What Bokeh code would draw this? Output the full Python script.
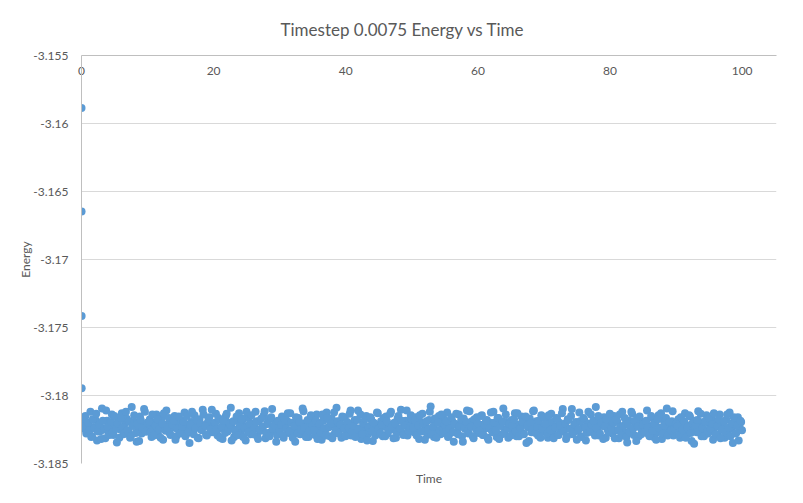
from bokeh.plotting import figure
from bokeh.models import Range1d, FixedTicker, CustomJSTickFormatter, Title
from bokeh.embed import file_html
from bokeh.resources import INLINE

title_text = "Timestep 0.0075 Energy vs Time"
x_label = "Time"
y_label = "Energy"
x_ticks = [0, 20, 40, 60, 80, 100]
y_ticks = [-3.185, -3.18, -3.175, -3.17, -3.165, -3.16, -3.155]

# initial transient (first saved steps)
t_start = [0.0, 0.0075, 0.015, 0.0225]
e_start = [-3.15886, -3.16647, -3.17415, -3.17947]

# equilibrated band, samples every 0.25 time units (two interleaved sets)
band_dt = 0.25
band_a_t0 = 0.1
e_band_a = [
    -3.18190, -3.18245, -3.18150, -3.18275, -3.18210, -3.18120, -3.18300, -3.18232, -3.18178, -3.18330,
    -3.18205, -3.18262, -3.18095, -3.18240, -3.18315, -3.18185, -3.18270, -3.18225, -3.18140, -3.18290,
    -3.18212, -3.18345, -3.18180, -3.18250, -3.18130, -3.18285, -3.18205, -3.18170, -3.18260, -3.18310,
    -3.18085, -3.18225, -3.18195, -3.18340, -3.18240, -3.18155, -3.18280, -3.18215, -3.18120, -3.18265,
    -3.18230, -3.18175, -3.18305, -3.18200, -3.18255, -3.18140, -3.18290, -3.18220, -3.18165, -3.18325,
    -3.18245, -3.18110, -3.18210, -3.18275, -3.18190, -3.18235, -3.18150, -3.18300, -3.18205, -3.18260,
    -3.18180, -3.18240, -3.18125, -3.18285, -3.18215, -3.18350, -3.18195, -3.18260, -3.18145, -3.18230,
    -3.18310, -3.18175, -3.18250, -3.18105, -3.18220, -3.18290, -3.18200, -3.18160, -3.18270, -3.18235,
    -3.18210, -3.18135, -3.18295, -3.18245, -3.18180, -3.18320, -3.18225, -3.18150, -3.18265, -3.18200,
    -3.18090, -3.18240, -3.18305, -3.18185, -3.18255, -3.18130, -3.18280, -3.18215, -3.18170, -3.18330,
    -3.18225, -3.18160, -3.18285, -3.18205, -3.18245, -3.18120, -3.18300, -3.18190, -3.18260, -3.18235,
    -3.18145, -3.18315, -3.18210, -3.18175, -3.18270, -3.18100, -3.18250, -3.18195, -3.18290, -3.18220,
    -3.18240, -3.18155, -3.18310, -3.18215, -3.18185, -3.18275, -3.18130, -3.18255, -3.18200, -3.18340,
    -3.18230, -3.18165, -3.18285, -3.18210, -3.18115, -3.18260, -3.18195, -3.18305, -3.18245, -3.18175,
    -3.18220, -3.18290, -3.18140, -3.18250, -3.18200, -3.18325, -3.18185, -3.18265, -3.18125, -3.18235,
    -3.18300, -3.18170, -3.18215, -3.18280, -3.18090, -3.18245, -3.18190, -3.18310, -3.18230, -3.18160,
    -3.18255, -3.18205, -3.18135, -3.18295, -3.18220, -3.18180, -3.18270, -3.18110, -3.18240, -3.18320,
    -3.18195, -3.18260, -3.18150, -3.18285, -3.18225, -3.18175, -3.18335, -3.18210, -3.18245, -3.18130,
    -3.18265, -3.18190, -3.18300, -3.18230, -3.18155, -3.18280, -3.18215, -3.18120, -3.18250, -3.18200,
    -3.18310, -3.18170, -3.18240, -3.18105, -3.18275, -3.18220, -3.18185, -3.18295, -3.18235, -3.18145,
    -3.18210, -3.18270, -3.18160, -3.18245, -3.18320, -3.18195, -3.18135, -3.18260, -3.18225, -3.18290,
    -3.18180, -3.18080, -3.18240, -3.18305, -3.18200, -3.18255, -3.18150, -3.18285, -3.18215, -3.18175,
    -3.18250, -3.18125, -3.18295, -3.18235, -3.18185, -3.18340, -3.18210, -3.18265, -3.18140, -3.18225,
    -3.18300, -3.18170, -3.18245, -3.18110, -3.18280, -3.18205, -3.18190, -3.18315, -3.18230, -3.18160,
    -3.18275, -3.18215, -3.18145, -3.18290, -3.18240, -3.18180, -3.18325, -3.18200, -3.18255, -3.18120,
    -3.18235, -3.18305, -3.18165, -3.18220, -3.18285, -3.18095, -3.18250, -3.18195, -3.18310, -3.18225,
    -3.18180, -3.18260, -3.18130, -3.18300, -3.18215, -3.18245, -3.18155, -3.18280, -3.18205, -3.18350,
    -3.18235, -3.18170, -3.18270, -3.18115, -3.18250, -3.18190, -3.18295, -3.18225, -3.18145, -3.18265,
    -3.18240, -3.18185, -3.18310, -3.18210, -3.18135, -3.18275, -3.18230, -3.18165, -3.18290, -3.18200,
    -3.18255, -3.18100, -3.18220, -3.18320, -3.18175, -3.18245, -3.18150, -3.18285, -3.18215, -3.18195,
    -3.18260, -3.18125, -3.18300, -3.18235, -3.18180, -3.18330, -3.18205, -3.18250, -3.18140, -3.18270,
    -3.18215, -3.18085, -3.18240, -3.18295, -3.18190, -3.18225, -3.18160, -3.18310, -3.18245, -3.18175,
    -3.18220, -3.18280, -3.18150, -3.18255, -3.18195, -3.18315, -3.18230, -3.18120, -3.18265, -3.18210,
    -3.18345, -3.18185, -3.18245, -3.18135, -3.18290, -3.18225, -3.18170, -3.18300, -3.18205, -3.18260,
    -3.18195, -3.18240, -3.18110, -3.18285, -3.18225, -3.18165, -3.18305, -3.18210, -3.18270, -3.18145,
    -3.18235, -3.18320, -3.18180, -3.18250, -3.18095, -3.18275, -3.18215, -3.18190, -3.18295, -3.18230,
    -3.18245, -3.18175, -3.18310, -3.18200, -3.18260, -3.18130, -3.18285, -3.18220, -3.18155, -3.18335,
    -3.18240, -3.18185, -3.18270, -3.18115, -3.18225, -3.18300, -3.18195, -3.18255, -3.18145, -3.18280,
    -3.18215, -3.18170, -3.18325, -3.18235, -3.18190, -3.18290, -3.18140, -3.18250, -3.18205, -3.18310,
    -3.18180, -3.18265, -3.18125, -3.18240, -3.18350, -3.18210, -3.18275, -3.18160, -3.18230, -3.18195,
]
band_b_t0 = 0.225
e_band_b = [
    -3.18225, -3.18160, -3.18280, -3.18200, -3.18255, -3.18305, -3.18175, -3.18240, -3.18135, -3.18265,
    -3.18215, -3.18320, -3.18185, -3.18250, -3.18110, -3.18230, -3.18290, -3.18195, -3.18270, -3.18150,
    -3.18245, -3.18205, -3.18310, -3.18165, -3.18235, -3.18280, -3.18120, -3.18255, -3.18190, -3.18300,
    -3.18220, -3.18145, -3.18275, -3.18210, -3.18335, -3.18180, -3.18240, -3.18100, -3.18265, -3.18200,
    -3.18190, -3.18270, -3.18140, -3.18295, -3.18220, -3.18175, -3.18250, -3.18310, -3.18205, -3.18130,
    -3.18260, -3.18235, -3.18165, -3.18290, -3.18215, -3.18185, -3.18325, -3.18245, -3.18155, -3.18280,
    -3.18230, -3.18195, -3.18300, -3.18150, -3.18265, -3.18215, -3.18120, -3.18285, -3.18240, -3.18180,
    -3.18315, -3.18205, -3.18255, -3.18140, -3.18225, -3.18295, -3.18170, -3.18250, -3.18105, -3.18270,
    -3.18200, -3.18250, -3.18165, -3.18310, -3.18230, -3.18185, -3.18275, -3.18135, -3.18245, -3.18215,
    -3.18330, -3.18190, -3.18260, -3.18155, -3.18290, -3.18225, -3.18175, -3.18305, -3.18240, -3.18120,
    -3.18270, -3.18210, -3.18145, -3.18285, -3.18235, -3.18190, -3.18320, -3.18250, -3.18170, -3.18230,
    -3.18115, -3.18275, -3.18205, -3.18300, -3.18160, -3.18245, -3.18220, -3.18340, -3.18185, -3.18255,
    -3.18215, -3.18290, -3.18175, -3.18240, -3.18130, -3.18265, -3.18200, -3.18310, -3.18225, -3.18160,
    -3.18280, -3.18195, -3.18250, -3.18095, -3.18235, -3.18305, -3.18180, -3.18260, -3.18145, -3.18220,
    -3.18255, -3.18185, -3.18320, -3.18210, -3.18275, -3.18140, -3.18240, -3.18295, -3.18165, -3.18230,
    -3.18205, -3.18315, -3.18125, -3.18260, -3.18190, -3.18280, -3.18215, -3.18155, -3.18245, -3.18300,
    -3.18195, -3.18240, -3.18110, -3.18270, -3.18225, -3.18305, -3.18180, -3.18250, -3.18140, -3.18285,
    -3.18210, -3.18170, -3.18330, -3.18235, -3.18160, -3.18265, -3.18200, -3.18295, -3.18125, -3.18245,
    -3.18280, -3.18215, -3.18165, -3.18300, -3.18190, -3.18255, -3.18135, -3.18230, -3.18315, -3.18205,
    -3.18270, -3.18150, -3.18245, -3.18185, -3.18290, -3.18220, -3.18110, -3.18260, -3.18235, -3.18175,
    -3.18235, -3.18180, -3.18295, -3.18220, -3.18145, -3.18265, -3.18205, -3.18325, -3.18190, -3.18250,
    -3.18120, -3.18285, -3.18230, -3.18170, -3.18310, -3.18200, -3.18255, -3.18140, -3.18275, -3.18215,
    -3.18190, -3.18305, -3.18245, -3.18160, -3.18270, -3.18210, -3.18135, -3.18285, -3.18225, -3.18180,
    -3.18340, -3.18240, -3.18195, -3.18260, -3.18115, -3.18230, -3.18300, -3.18175, -3.18250, -3.18205,
    -3.18260, -3.18150, -3.18290, -3.18215, -3.18185, -3.18310, -3.18240, -3.18125, -3.18270, -3.18200,
    -3.18255, -3.18165, -3.18320, -3.18225, -3.18190, -3.18280, -3.18140, -3.18245, -3.18210, -3.18295,
    -3.18225, -3.18175, -3.18265, -3.18130, -3.18300, -3.18240, -3.18195, -3.18285, -3.18155, -3.18220,
    -3.18335, -3.18205, -3.18250, -3.18110, -3.18275, -3.18230, -3.18185, -3.18310, -3.18245, -3.18160,
    -3.18210, -3.18280, -3.18145, -3.18255, -3.18195, -3.18315, -3.18235, -3.18170, -3.18290, -3.18220,
    -3.18130, -3.18265, -3.18205, -3.18300, -3.18180, -3.18245, -3.18100, -3.18270, -3.18215, -3.18325,
    -3.18250, -3.18190, -3.18305, -3.18165, -3.18235, -3.18275, -3.18120, -3.18260, -3.18215, -3.18185,
    -3.18295, -3.18240, -3.18150, -3.18280, -3.18200, -3.18320, -3.18225, -3.18175, -3.18265, -3.18135,
    -3.18240, -3.18200, -3.18315, -3.18180, -3.18255, -3.18140, -3.18290, -3.18225, -3.18165, -3.18305,
    -3.18210, -3.18270, -3.18120, -3.18245, -3.18190, -3.18335, -3.18230, -3.18155, -3.18285, -3.18215,
    -3.18270, -3.18185, -3.18235, -3.18300, -3.18150, -3.18260, -3.18205, -3.18325, -3.18175, -3.18240,
    -3.18130, -3.18280, -3.18220, -3.18165, -3.18295, -3.18195, -3.18255, -3.18115, -3.18245, -3.18210,
    -3.18225, -3.18290, -3.18160, -3.18250, -3.18190, -3.18310, -3.18235, -3.18145, -3.18275, -3.18205,
    -3.18355, -3.18220, -3.18180, -3.18265, -3.18135, -3.18240, -3.18300, -3.18195, -3.18260, -3.18170,
    -3.18245, -3.18210, -3.18130, -3.18285, -3.18225, -3.18175, -3.18315, -3.18250, -3.18190, -3.18270,
    -3.18140, -3.18235, -3.18300, -3.18205, -3.18160, -3.18280, -3.18220, -3.18330, -3.18185, -3.18255,
]
t_band_a = [round(band_a_t0 + i * band_dt, 4) for i in range(len(e_band_a))]
t_band_b = [round(band_b_t0 + i * band_dt, 4) for i in range(len(e_band_b))]

times = t_start + t_band_a + t_band_b
energy = e_start + e_band_a + e_band_b

FONT = "Lato"
GREY_TEXT = "#595959"

p = figure(width=790, height=490, output_backend="svg", toolbar_location=None,
           x_range=Range1d(0, 105.2), y_range=Range1d(-3.185, -3.155),
           x_axis_location="above",
           min_border_left=81, min_border_right=14, min_border_top=53, min_border_bottom=23)
p.background_fill_color = "white"
p.border_fill_color = "white"
p.outline_line_color = None

p.title.text = title_text
p.title.align = "left"
p.title.offset = 199
p.title.standoff = 32
p.title.text_font = FONT
p.title.text_font_size = "17px"
p.title.text_font_style = "normal"
p.title.text_color = GREY_TEXT

p.scatter(times, energy, size=8, marker="circle", fill_color="#5B9BD5", line_color=None)

# x axis (top)
xa = p.xaxis[0]
xa.ticker = FixedTicker(ticks=x_ticks)
xa.major_tick_out = 0
xa.major_tick_in = 0
xa.minor_tick_out = 0
xa.minor_tick_in = 0
xa.major_label_standoff = -19
xa.axis_line_color = "#BFBFBF"
xa.major_label_text_font = FONT
xa.major_label_text_font_size = "12px"
xa.major_label_text_color = GREY_TEXT

# y axis
ya = p.yaxis[0]
ya.ticker = FixedTicker(ticks=y_ticks)
ya.formatter = CustomJSTickFormatter(code="return tick.toFixed(3).replace(/0+$/, '');")
ya.major_tick_out = 0
ya.major_tick_in = 0
ya.minor_tick_out = 0
ya.minor_tick_in = 0
ya.major_label_standoff = 13
ya.axis_line_color = "#BFBFBF"
ya.major_label_text_font = FONT
ya.major_label_text_font_size = "12px"
ya.major_label_text_color = GREY_TEXT
ya.axis_label = y_label
ya.axis_label_standoff = -3
ya.axis_label_text_font = FONT
ya.axis_label_text_font_size = "12px"
ya.axis_label_text_font_style = "normal"
ya.axis_label_text_color = GREY_TEXT

p.xgrid.grid_line_color = None
p.ygrid.ticker = FixedTicker(ticks=y_ticks)
p.ygrid.grid_line_color = "#D9D9D9"
p.ygrid.grid_line_width = 1

xt = Title(text=x_label, align="center", text_font=FONT, text_font_size="12px",
           text_font_style="normal", text_color=GREY_TEXT)
p.add_layout(xt, "below")

open("out.html", "w").write(file_html(p, INLINE))
